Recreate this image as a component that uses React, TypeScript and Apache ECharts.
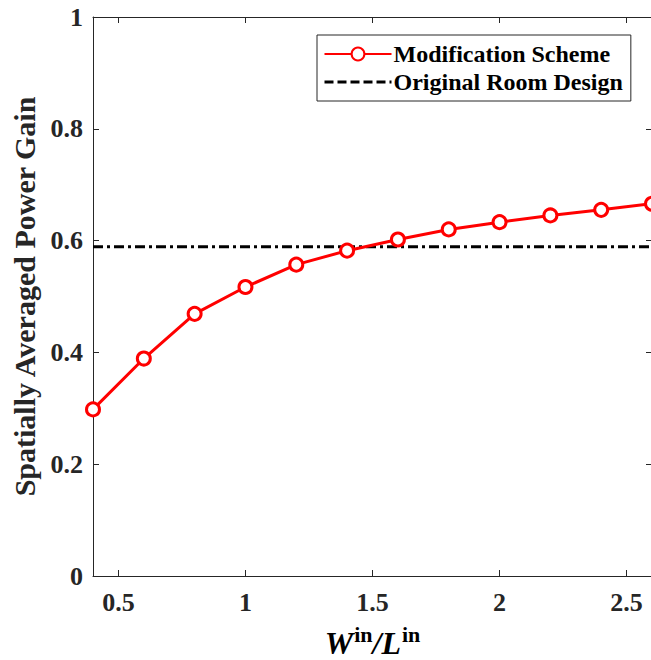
import React, { useEffect, useRef } from "react";
import * as echarts from "echarts";

const xValues = [0.4, 0.6, 0.8, 1.0, 1.2, 1.4, 1.6, 1.8, 2.0, 2.2, 2.4, 2.6];
const modificationScheme = [0.298, 0.389, 0.469, 0.517, 0.557, 0.582, 0.602, 0.62, 0.633, 0.645, 0.655, 0.666];
const originalRoomDesign = 0.589;
const xTicks = [0.5, 1, 1.5, 2, 2.5];
const yTicks = [0, 0.2, 0.4, 0.6, 0.8, 1];

const FONT = "'Liberation Serif', 'Times New Roman', serif";

export default function App() {
  const ref = useRef<HTMLDivElement>(null);
  useEffect(() => {
    if (!ref.current) return;
    const chart = echarts.init(ref.current, null, { renderer: "svg" });
    const tickStyle = { show: true, inside: true, length: 6, lineStyle: { color: "#262626", width: 1 } };
    const lineStyleAxis = { show: true, onZero: false, lineStyle: { color: "#262626", width: 1 } };
    chart.setOption({
      animation: false,
      backgroundColor: "#fff",
      textStyle: { fontFamily: FONT },
      grid: { left: 93, top: 17, width: 559, height: 559, containLabel: false, outerBoundsMode: "none" },
      legend: {
        show: true,
        orient: "vertical",
        left: 317,
        top: 35,
        padding: [5, 8, 5, 6],
        itemGap: 0,
        itemWidth: 67,
        itemHeight: 16,
        borderColor: "#262626",
        borderWidth: 1,
        backgroundColor: "#fff",
        textStyle: {
          fontFamily: FONT,
          fontWeight: "bold",
          fontSize: 24,
          lineHeight: 28,
          color: "#000",
          padding: [0, 0, 0, -3],
        },
        data: [
          { name: "Modification Scheme" },
          {
            name: "Original Room Design",
            itemStyle: { opacity: 0 },
            lineStyle: { type: [9, 4], width: 3, color: "#000" },
          },
        ],
      },
      xAxis: [
        {
          type: "value",
          min: 0.4,
          max: 2.6,
          position: "bottom",
          axisLine: lineStyleAxis,
          axisTick: { ...tickStyle, customValues: xTicks },
          splitLine: { show: false },
          axisLabel: {
            customValues: xTicks,
            fontFamily: FONT,
            fontWeight: "bold",
            fontSize: 26,
            color: "#262626",
            margin: 13,
            formatter: (v: number) => String(v),
          },
          name: "{i|W}{s|in}{i|/L}{s|in}",
          nameLocation: "middle",
          nameGap: 47,
          nameTextStyle: {
            rich: {
              i: { fontFamily: FONT, fontStyle: "italic", fontWeight: "bold", fontSize: 32, color: "#000" },
              s: { fontFamily: FONT, fontWeight: "bold", fontSize: 22, color: "#000", padding: [0, 0, 18, 1] },
            },
          },
        },
        {
          type: "value",
          min: 0.4,
          max: 2.6,
          position: "top",
          axisLine: lineStyleAxis,
          axisTick: { ...tickStyle, customValues: xTicks },
          axisLabel: { show: false },
          splitLine: { show: false },
        },
      ],
      yAxis: [
        {
          type: "value",
          min: 0,
          max: 1,
          interval: 0.2,
          position: "left",
          axisLine: lineStyleAxis,
          axisTick: tickStyle,
          splitLine: { show: false },
          axisLabel: {
            fontFamily: FONT,
            fontWeight: "bold",
            fontSize: 26,
            color: "#262626",
            margin: 10,
            customValues: yTicks,
          },
          name: "Spatially Averaged Power Gain",
          nameLocation: "middle",
          nameGap: 49,
          nameTextStyle: { fontFamily: FONT, fontWeight: "bold", fontSize: 30, color: "#262626" },
        },
        {
          type: "value",
          min: 0,
          max: 1,
          interval: 0.2,
          position: "right",
          axisLine: lineStyleAxis,
          axisTick: tickStyle,
          axisLabel: { show: false },
          splitLine: { show: false },
        },
      ],
      series: [
        {
          name: "Modification Scheme",
          type: "line",
          data: xValues.map((x, i) => [x, modificationScheme[i]]),
          color: "#ff0000",
          lineStyle: { color: "#ff0000", width: 3 },
          symbol: "circle",
          symbolSize: 13,
          showAllSymbol: true,
          itemStyle: { color: "#fff", borderColor: "#ff0000", borderWidth: 3 },
          clip: false,
          z: 3,
        },
        {
          name: "Original Room Design",
          type: "line",
          data: [
            [xValues[0], originalRoomDesign],
            [xValues[xValues.length - 1], originalRoomDesign],
          ],
          color: "#000",
          symbol: "none",
          lineStyle: { color: "#000", width: 3, type: [10, 4, 3, 4] },
          z: 2,
        },
      ],
    });
    return () => chart.dispose();
  }, []);
  return <div ref={ref} style={{ width: 651, height: 660, position: "absolute", left: 0, top: 0 }} />;
}
